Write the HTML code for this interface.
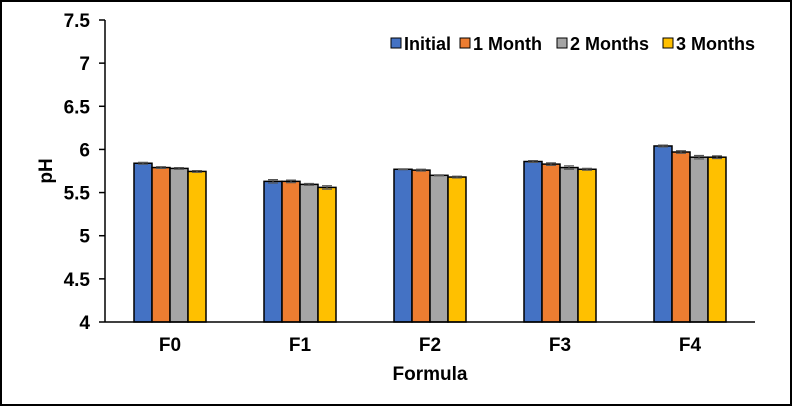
<!DOCTYPE html>
<html><head><meta charset="utf-8"><style>
html,body{margin:0;padding:0;background:#fff}
#wrap{position:relative;width:792px;height:406px;box-sizing:border-box;border:2px solid #000;overflow:hidden}
svg{position:absolute;left:-2px;top:-2px}
text{font-family:"Liberation Sans",Arial,sans-serif;font-weight:bold;fill:#000}
</style></head><body>
<div id="wrap">
<svg id="chart" width="792" height="406"></svg>
</div>
<script>
const categories=["F0","F1","F2","F3","F4"];
const seriesNames=["Initial","1 Month","2 Months","3 Months"];
const initialVals=[5.84,5.63,5.77,5.86,6.04];
const month1Vals=[5.79,5.63,5.76,5.83,5.97];
const month2Vals=[5.78,5.595,5.70,5.79,5.91];
const month3Vals=[5.745,5.56,5.68,5.77,5.91];
const errInitial=[0.01,0.02,0.005,0.01,0.01];
const errMonth1=[0.01,0.015,0.01,0.015,0.015];
const errMonth2=[0.01,0.01,0.005,0.02,0.02];
const errMonth3=[0.01,0.02,0.01,0.01,0.015];
const yTicks=[4,4.5,5,5.5,6,6.5,7,7.5];
const colors=["#4472C4","#ED7D31","#A5A5A5","#FFC000"];
const series=[initialVals,month1Vals,month2Vals,month3Vals];
const errs=[errInitial,errMonth1,errMonth2,errMonth3];

const NS="http://www.w3.org/2000/svg";
const svg=document.getElementById('chart');
const X0=105,X1=755,Y0=322,Y1=20,YMIN=4,YMAX=7.5;
const yS=v=>Y0-(v-YMIN)/(YMAX-YMIN)*(Y0-Y1);
const step=(X1-X0)/categories.length;
const xC=i=>X0+step*(i+0.5);
const BW=18;
function mk(t,a,parent){const e=document.createElementNS(NS,t);for(const k in a)e.setAttribute(k,a[k]);(parent||svg).appendChild(e);return e;}

const ax=mk('line',{x1:X0,y1:Y1,x2:X0,y2:Y0,stroke:'#000','stroke-width':1.5});


yTicks.forEach(v=>{
  const t=mk('line',{x1:X0-6,y1:yS(v),x2:X0,y2:yS(v),stroke:'#000','stroke-width':1.5});
  
  
  const l=mk('text',{x:X0-15,y:yS(v)+7,'text-anchor':'end','font-size':19});
  l.textContent=String(v);
  
  
});
categories.forEach((c,i)=>{
  series.forEach((s,j)=>{
    const x=xC(i)-2*BW+j*BW;
    const r=mk('rect',{x:x,y:yS(s[i]),width:BW,height:Y0-yS(s[i]),fill:colors[j],stroke:'#000','stroke-width':1.5});
    
    
    const cx=x+BW/2,eh=yS(s[i]+errs[j][i]),el=yS(s[i]-errs[j][i]);
    const g=mk('path',{d:`M${cx-5},${eh}H${cx+5}M${cx},${eh}V${el}M${cx-5},${el}H${cx+5}`,stroke:'#555','stroke-width':1.2,fill:'none'});
    
    
  });
  const l=mk('text',{x:xC(i),y:351,'text-anchor':'middle','font-size':19});
  l.textContent=c;
  
  
});
const xa=mk('line',{x1:X0,y1:Y0,x2:X1,y2:Y0,stroke:'#000','stroke-width':1.5});


const xt=mk('text',{x:430,y:380,'text-anchor':'middle','font-size':19});
xt.textContent='Formula';


const yt=mk('text',{x:0,y:0,'text-anchor':'middle','font-size':19,transform:'translate(52,171) rotate(-90)'});
yt.textContent='pH';


const legX=[391,460,557,663];
seriesNames.forEach((n,j)=>{
  const g=mk('g',{});
  
  
  mk('rect',{x:legX[j],y:38,width:10,height:10,fill:colors[j],stroke:'#000','stroke-width':1},g);
  const t=mk('text',{x:legX[j]+13,y:50,'font-size':18},g);
  t.textContent=n;
});
</script>
</body></html>
